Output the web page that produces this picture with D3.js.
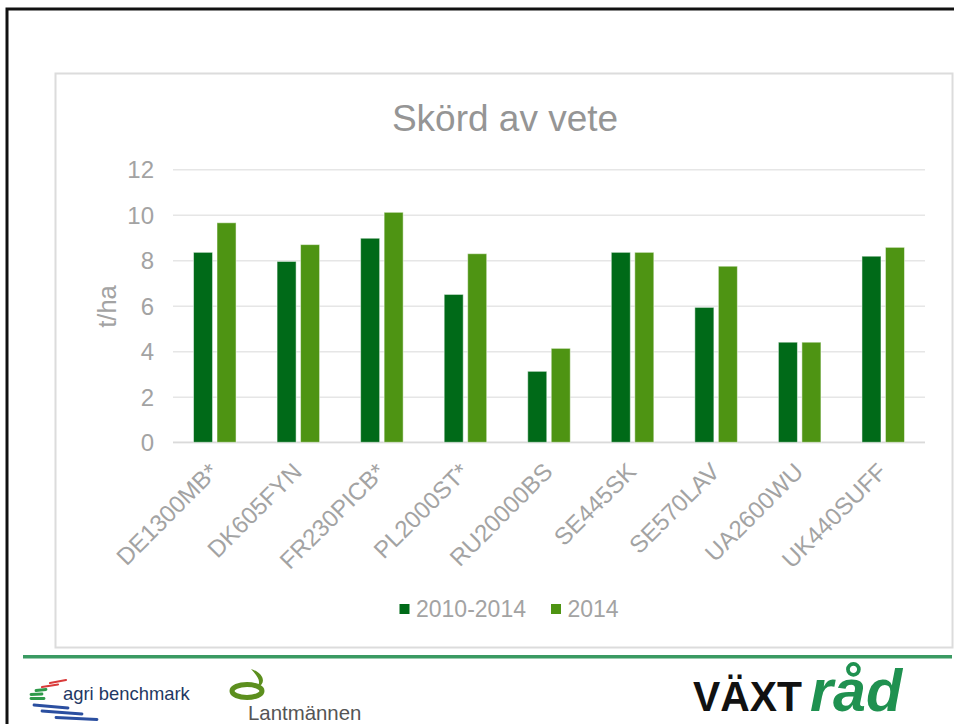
<!DOCTYPE html>
<html>
<head>
<meta charset="utf-8">
<script src="https://cdn.jsdelivr.net/npm/d3@7"></script>
<style>
  html, body { margin: 0; padding: 0; background: #fff; }
  svg { display: block; }
  text { font-family: "Liberation Sans", Arial, sans-serif; }
</style>
</head>
<body>
<svg id="chart" width="954" height="724"></svg>
<script>
const categories = ["DE1300MB*", "DK605FYN", "FR230PICB*", "PL2000ST*", "RU20000BS", "SE445SK", "SE570LAV", "UA2600WU", "UK440SUFF"];
const seriesNames = ["2010-2014", "2014"];
const values2010_2014 = [8.35, 7.95, 8.97, 6.5, 3.12, 8.35, 5.93, 4.4, 8.18];
const values2014 = [9.65, 8.69, 10.11, 8.29, 4.13, 8.35, 7.74, 4.4, 8.57];
const yTicks = [0, 2, 4, 6, 8, 10, 12];
const seriesColors = ["#006a18", "#4e9413"];
const title = "Skörd av vete";
const yTitle = "t/ha";

const svg = d3.select("#chart");

// outer slide frame
svg.append("rect").attr("x", 7).attr("y", 9).attr("width", 960).attr("height", 760)
  .attr("fill", "none").attr("stroke", "#111").attr("stroke-width", 3);

// chart panel
svg.append("rect").attr("x", 55.5).attr("y", 73.5).attr("width", 897).attr("height", 574)
  .attr("fill", "#fff").attr("stroke", "#dcdcdc").attr("stroke-width", 2);

// green separator line
svg.append("rect").attr("x", 23).attr("y", 655).attr("width", 929).attr("height", 3.5).attr("fill", "#3a9a62");

const plot = { left: 173, right: 925, top: 169.3, bottom: 442.3 };
const labelSize = 24;

const y = d3.scaleLinear().domain([0, 12]).range([plot.bottom, plot.top]);
const x0 = d3.scaleBand().domain(categories).range([plot.left, plot.right]).paddingInner(0.491).paddingOuter(0.2455);
const x1 = d3.scaleBand().domain(seriesNames).range([0, x0.bandwidth()]).paddingInner(0.19);

// gridlines
const yAxis = d3.axisLeft(y).tickValues(yTicks).tickSize(-(plot.right - plot.left)).tickPadding(20).tickFormat(d3.format("d"));
const gy = svg.append("g").attr("transform", `translate(${plot.left},0)`).call(yAxis);
gy.select(".domain").remove();
gy.selectAll(".tick line").attr("stroke", "#e6e6e6").attr("stroke-width", 1.5);
gy.selectAll(".tick text").attr("fill", "#a3a3a3").attr("font-size", labelSize)
  .attr("x", 154 - plot.left).attr("dy", "0.36em");

// x baseline
svg.append("line").attr("x1", plot.left).attr("x2", plot.right).attr("y1", y(0)).attr("y2", y(0))
  .attr("stroke", "#dadada").attr("stroke-width", 1.5);

// bars
const data = categories.map((c, i) => ({ cat: c, vals: [values2010_2014[i], values2014[i]] }));
const groups = svg.append("g").selectAll("g").data(data).join("g")
  .attr("transform", d => `translate(${x0(d.cat)},0)`);
groups.selectAll("rect").data(d => d.vals.map((v, k) => ({ s: seriesNames[k], v, k })))
  .join("rect")
  .attr("x", d => x1(d.s))
  .attr("width", x1.bandwidth())
  .attr("y", d => y(d.v))
  .attr("height", d => y(0) - y(d.v))
  .attr("fill", d => seriesColors[d.k])
  .attr("stroke", "rgba(255,255,255,0.5)")
  .attr("stroke-width", 1);

// category labels
const xAxis = d3.axisBottom(x0).tickSize(0).tickPadding(0);
const gx = svg.append("g").attr("transform", `translate(0,${plot.bottom})`).call(xAxis);
gx.select(".domain").remove();
gx.selectAll(".tick text")
  .attr("fill", "#a3a3a3").attr("font-size", labelSize)
  .attr("text-anchor", "end")
  .attr("y", 0).attr("dy", 0)
  .attr("transform", "translate(5,31) rotate(-45)");

// title
svg.append("text").attr("x", 505).attr("y", 131).attr("text-anchor", "middle")
  .attr("font-size", 37).attr("fill", "#959595").text(title);

// y title
svg.append("text").attr("transform", "translate(116,306.5) rotate(-90)").attr("text-anchor", "middle")
  .attr("font-size", 25.5).attr("fill", "#a3a3a3").text(yTitle);

// legend
const legendX = [399.5, 551];
const lg = svg.append("g").selectAll("g").data(seriesNames).join("g")
  .attr("transform", (d, i) => `translate(${legendX[i]},604)`);
lg.append("rect").attr("width", 10).attr("height", 10).attr("fill", (d, i) => seriesColors[i]);
lg.append("text").attr("x", 16.5).attr("y", 5).attr("dy", "0.36em").attr("font-size", 23)
  .attr("fill", "#a3a3a3").text(d => d);

// ---- footer logos ----
// agri benchmark
const ab = svg.append("g");
const stripe = (x1_, y1_, x2_, y2_, c, w) => ab.append("line").attr("x1", x1_).attr("y1", y1_).attr("x2", x2_).attr("y2", y2_)
  .attr("stroke", c).attr("stroke-width", w).attr("stroke-linecap", "round");
stripe(50, 683, 66, 680, "#d93a3a", 2.2);
stripe(42, 687, 58, 684.5, "#d93a3a", 2.2);
stripe(36, 690.5, 46, 689.5, "#2e9a4a", 2.8);
stripe(31, 694.5, 42, 694, "#2e9a4a", 2.8);
stripe(31, 698.5, 44, 698.5, "#2e9a4a", 2.8);
stripe(34, 705, 68, 708, "#2b4fa0", 2.8);
stripe(42, 711, 82, 714, "#2b4fa0", 2.8);
stripe(56, 717.5, 97, 719.5, "#2b4fa0", 2.8);
ab.append("text").attr("x", 63).attr("y", 700).attr("font-size", 18.4).attr("fill", "#1f3864").text("agri benchmark");

// Lantmännen
const lm = svg.append("g");
lm.append("ellipse").attr("cx", 247).attr("cy", 691).attr("rx", 15).attr("ry", 6.5)
  .attr("fill", "none").attr("stroke", "#5c8f1e").attr("stroke-width", 5);
lm.append("path").attr("d", "M257,687 C262,681 257,676 251,669 C264,673 267,684 257,687 Z").attr("fill", "#5c8f1e");
lm.append("text").attr("x", 248).attr("y", 720).attr("font-size", 20.4)
  .attr("font-family", "'Liberation Serif', 'Times New Roman', serif").attr("fill", "#555").text("Lantmännen");

// VÄXTråd
svg.append("text").attr("x", 693).attr("y", 711).attr("font-size", 43).attr("font-weight", 900)
  .attr("textLength", 109).attr("lengthAdjust", "spacingAndGlyphs").attr("fill", "#111").text("VÄXT");
svg.append("text").attr("x", 810).attr("y", 711).attr("font-size", 60).attr("font-weight", 700).attr("font-style", "italic")
  .attr("font-family", "'Liberation Serif', 'Times New Roman', serif")
  .attr("textLength", 92).attr("lengthAdjust", "spacingAndGlyphs").attr("fill", "#1f9150").text("råd");
</script>
</body>
</html>
